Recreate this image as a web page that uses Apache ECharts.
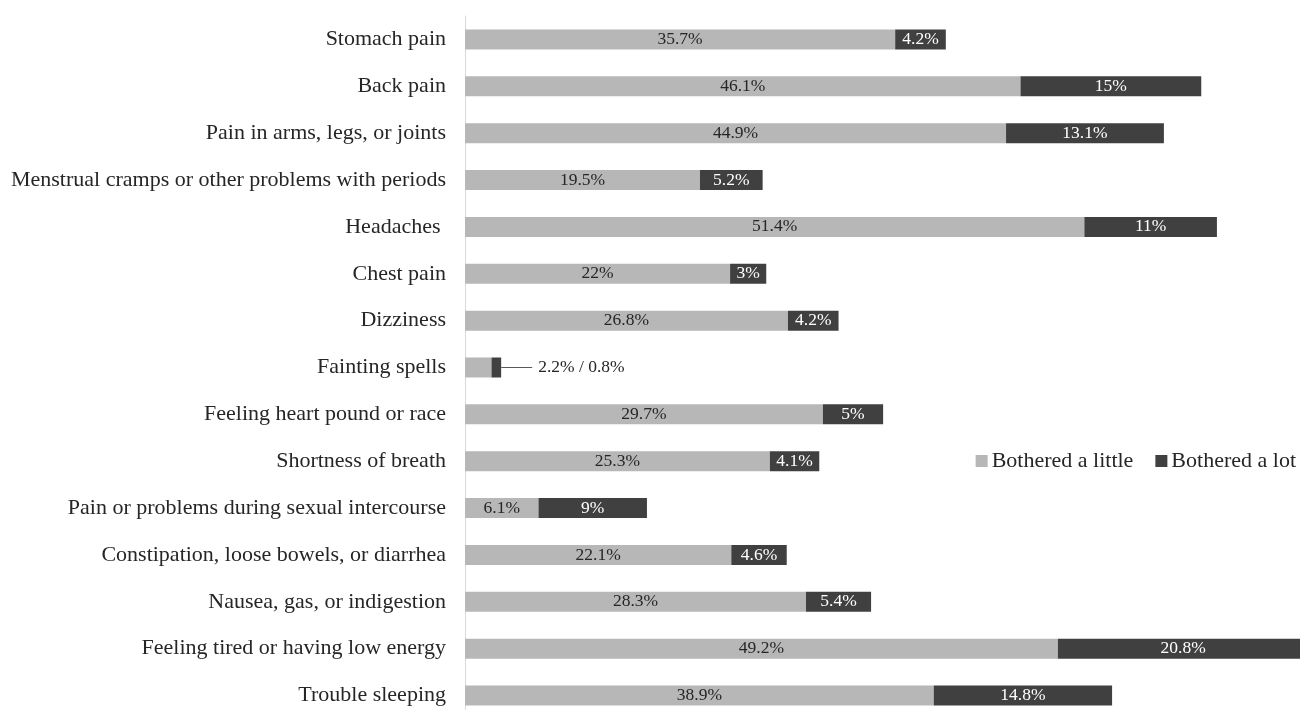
<!DOCTYPE html>
<html>
<head>
<meta charset="utf-8">
<script src="https://cdn.jsdelivr.net/npm/echarts@6/dist/echarts.min.js"></script>
<style>
  html, body { margin: 0; padding: 0; background: #fff; }
  #chart { width: 1300px; height: 710px; }
</style>
</head>
<body>
<div id="chart"></div>
<script>
// symptoms, top to bottom as in the picture
const symptoms = [
  "Stomach pain",
  "Back pain",
  "Pain in arms, legs, or joints",
  "Menstrual cramps or other problems with periods",
  "Headaches ",
  "Chest pain",
  "Dizziness",
  "Fainting spells",
  "Feeling heart pound or race",
  "Shortness of breath",
  "Pain or problems during sexual intercourse",
  "Constipation, loose bowels, or diarrhea",
  "Nausea, gas, or indigestion",
  "Feeling tired or having low energy",
  "Trouble sleeping"
];
const botheredLittle = [35.7, 46.1, 44.9, 19.5, 51.4, 22, 26.8, 2.2, 29.7, 25.3, 6.1, 22.1, 28.3, 49.2, 38.9];
const botheredLot = [4.2, 15, 13.1, 5.2, 11, 3, 4.2, 0.8, 5, 4.1, 9, 4.6, 5.4, 20.8, 14.8];
const seriesNames = ["Bothered a little", "Bothered a lot"];

const FONT = "'Liberation Serif', 'Times New Roman', serif";
const LIGHT = "#b7b7b7";
const DARK = "#404040";
const smallIdx = 7; // fainting spells gets one combined label outside

const chart = echarts.init(document.getElementById("chart"));

const littleData = botheredLittle.map((v, i) => ({
  value: v,
  label: { show: i !== smallIdx }
}));
const lotData = botheredLot.map((v, i) => {
  if (i !== smallIdx) return { value: v };
  return {
    value: v,
    label: {
      position: "right",
      distance: 0,
      color: "#262626",
      formatter: "{l|}{t|" + botheredLittle[i] + "% / " + v + "%}",
      rich: {
        l: { width: 31, height: 1, backgroundColor: "#595959" },
        t: { padding: [0, 0, 0, 6], fontSize: 17.5, fontFamily: FONT, color: "#262626" }
      }
    }
  };
});

const option = {
  animation: false,
  textStyle: { fontFamily: FONT },
  legend: {
    data: seriesNames,
    left: "auto",
    right: 4,
    top: 450,
    padding: 0,
    itemWidth: 12,
    itemHeight: 12,
    itemGap: 22,
    icon: "rect",
    textStyle: { fontFamily: FONT, fontSize: 22, color: "#262626", padding: [0, 0, 0, -1] }
  },
  grid: {
    left: 465,
    top: 16,
    width: 843.5,
    height: 703,
    outerBoundsMode: "none"
  },
  xAxis: {
    type: "value",
    min: 0,
    max: 70,
    show: false
  },
  yAxis: {
    type: "category",
    inverse: true,
    data: symptoms,
    axisLine: { show: true, lineStyle: { color: "#d9d9d9", width: 1 } },
    axisTick: { show: false },
    axisLabel: {
      fontFamily: FONT,
      fontSize: 22,
      color: "#262626",
      margin: 19
    }
  },
  series: [
    {
      name: seriesNames[0],
      type: "bar",
      stack: "total",
      barWidth: 20,
      itemStyle: { color: LIGHT },
      label: {
        show: true,
        position: "inside",
        fontFamily: FONT,
        fontSize: 17.5,
        color: "#262626",
        formatter: p => p.value + "%"
      },
      data: littleData
    },
    {
      name: seriesNames[1],
      type: "bar",
      stack: "total",
      barWidth: 20,
      itemStyle: { color: DARK },
      label: {
        show: true,
        position: "inside",
        fontFamily: FONT,
        fontSize: 17.5,
        color: "#ffffff",
        formatter: p => p.value + "%"
      },
      data: lotData
    }
  ]
};

chart.setOption(option);
</script>
</body>
</html>
